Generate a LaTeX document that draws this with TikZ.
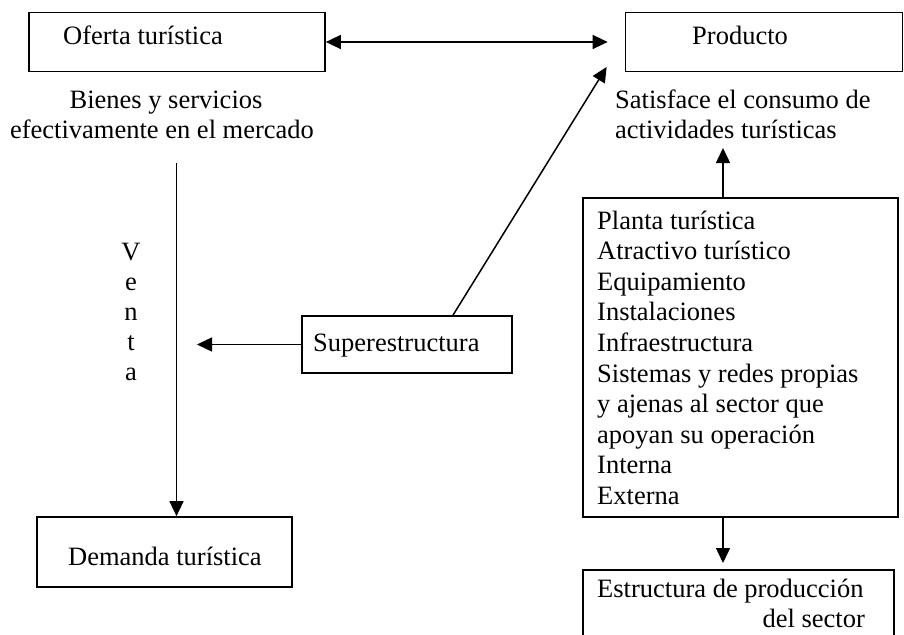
\documentclass[tikz,border=0pt]{standalone}
\usepackage{fontspec}
\setmainfont{Liberation Serif}
\usetikzlibrary{arrows.meta}
\begin{document}
\begin{tikzpicture}[x=1pt,y=-1pt,
  box/.style={draw, line width=1.7pt, inner sep=0pt, minimum width=#1},
  txt/.style={inner sep=0pt, font=\fontsize{26.5}{30.6}\selectfont},
  arr/.style={line width=1.5pt, -{Triangle[length=15pt,width=14pt]}},
  darr/.style={line width=1.5pt, {Triangle[length=15pt,width=14pt]}-{Triangle[length=15pt,width=14pt]}}]
\useasboundingbox (0,0) rectangle (904,634);
\clip (0,0) rectangle (904,634);
% boxes
\node[box=296pt, minimum height=59pt] (oferta) at (177,42) {};
\node[box=277pt, minimum height=59pt] (producto) at (764,42) {};
\node[box=210pt, minimum height=57pt] (super) at (407,344.5) {};
\node[box=255pt, minimum height=70pt] (demanda) at (164.5,552) {};
\node[box=315pt, minimum height=319pt] (planta) at (740.5,357.5) {};
\node[box=311pt, minimum height=100pt] (estructura) at (738.5,620) {};
% texts
\node[txt, anchor=base west] (toferta) at (63,45) {Oferta turística};
\node[txt, anchor=base west] (tproducto) at (692,45) {Producto};
\node[txt, anchor=base] (bienes1) at (166,108) {Bienes y servicios};
\node[txt, anchor=base] (bienes2) at (162,138.6) {efectivamente en el mercado};
\node[txt, anchor=base west] (sat1) at (615,108) {Satisface el consumo de};
\node[txt, anchor=base west] (sat2) at (615,138.6) {actividades turísticas};
\node[txt, anchor=base west] (tsuper) at (313,351) {Superestructura};
\node[txt, anchor=base west] (tdemanda) at (68,565) {Demanda turística};
\node[txt, anchor=base west] (est1) at (597,597) {Estructura de producción};
\node[txt, anchor=base east] (est2) at (865,627.6) {del sector};
\foreach \t [count=\i from 0] in {V,e,n,t,a}
  \node[txt, anchor=base] (v\i) at (131,260+30*\i) {\t};
\foreach \t [count=\i from 0] in {Planta turística,Atractivo turístico,Equipamiento,Instalaciones,Infraestructura,Sistemas y redes propias,y ajenas al sector que,apoyan su operación,Interna,Externa}
  \node[txt, anchor=base west] (pl\i) at (597,229+30.6*\i) {\t};
% coordinates for free ends
\coordinate (vtop) at (176.5,163);
\coordinate (sv) at (197,344.5);
\coordinate (psat) at (723,148);
\coordinate (pest) at (723,563);
% connectors
\draw[darr] (oferta.east) -- ([xshift=-17pt]producto.west);
\draw[arr] ([xshift=46pt]super.north) -- ([xshift=-18pt,yshift=-25pt]producto.west);
\draw[arr] (super.west) -- (sv);
\draw[arr] (vtop) -- (vtop |- demanda.north);
\draw[arr] (psat |- planta.north) -- (psat);
\draw[arr] (pest |- planta.south) -- (pest);
\end{tikzpicture}
\end{document}
